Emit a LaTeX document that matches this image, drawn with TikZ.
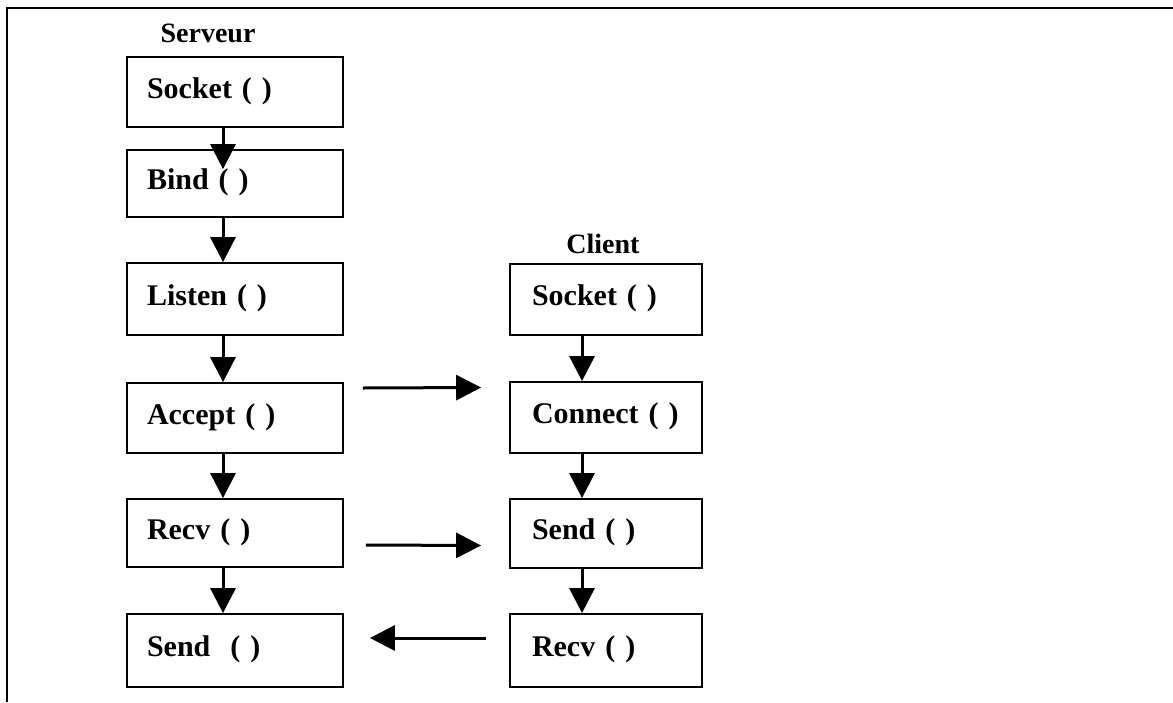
\documentclass[tikz,border=0pt]{standalone}
\usepackage{fontspec}
\setmainfont{Liberation Serif}
\usetikzlibrary{arrows.meta}
\begin{document}
\begin{tikzpicture}[x=1pt,y=-1pt,
  box/.style={draw,line width=1.8pt,rectangle,font=\bfseries\fontsize{30}{32}\selectfont,align=left,text height=22pt,text depth=10pt,inner ysep=0pt},
  sbox/.style={box,inner xsep=20pt,text width=176pt},
  cbox/.style={box,inner xsep=22pt,text width=148pt},
  lbl/.style={font=\bfseries\fontsize{28}{30}\selectfont,inner sep=0pt,anchor=base},
  arr/.style={line width=3pt,-{Triangle[length=25pt,width=25pt]}},
  frame/.style={line width=2pt}]
\useasboundingbox (0,0) rectangle (1173,702);
\draw[frame] (7,702) -- (7,8) -- (1173,8);

\node[lbl] (serveur) at (208,42) {Serveur};
\node[lbl] (client) at (603,253) {Client};

\node[sbox,minimum height=70pt] (sSocket) at (235,92) {Socket ( )};
\node[sbox,minimum height=67pt] (sBind) at (235,183.5) {Bind ( )};
\node[sbox,minimum height=72pt] (sListen) at (235,299) {Listen ( )};
\node[sbox,minimum height=70pt] (sAccept) at (235,418) {Accept ( )};
\node[sbox,minimum height=68pt] (sRecv) at (235,533) {Recv ( )};
\node[sbox,minimum height=73pt] (sSend) at (235,650.5) {Send\ \ ( )};

\node[cbox,minimum height=71pt] (cSocket) at (606,299.5) {Socket ( )};
\node[cbox,minimum height=71pt] (cConnect) at (606,417.5) {Connect ( )};
\node[cbox,minimum height=69pt] (cSend) at (606,533.5) {Send ( )};
\node[cbox,minimum height=73pt] (cRecv) at (606,650.5) {Recv ( )};

\draw[arr] ([xshift=-12pt]sSocket.south) -- ([xshift=-12pt,yshift=-20pt]sBind.north);
\draw[arr] ([xshift=-12pt]sBind.south) -- ([xshift=-12pt]sListen.north);
\draw[arr] ([xshift=-12pt]sListen.south) -- ([xshift=-12pt]sAccept.north);
\draw[arr] ([xshift=-12pt]sAccept.south) -- ([xshift=-12pt]sRecv.north);
\draw[arr] ([xshift=-12pt]sRecv.south) -- ([xshift=-12pt]sSend.north);

\draw[arr] ([xshift=-24pt]cSocket.south) -- ([xshift=-24pt]cConnect.north);
\draw[arr] ([xshift=-24pt]cConnect.south) -- ([xshift=-24pt]cSend.north);
\draw[arr] ([xshift=-24pt]cSend.south) -- ([xshift=-24pt]cRecv.north);

\draw[arr] ([xshift=19pt,yshift=30pt]sAccept.east) -- ([xshift=-28pt,yshift=30pt]cConnect.west);
\draw[arr] ([xshift=22pt,yshift=-12pt]sRecv.east) -- ([xshift=-28pt,yshift=-12pt]cSend.west);
\draw[arr] ([xshift=-23pt,yshift=12.5pt]cRecv.west) -- ([xshift=26pt,yshift=12.5pt]sSend.east);
\end{tikzpicture}
\end{document}
